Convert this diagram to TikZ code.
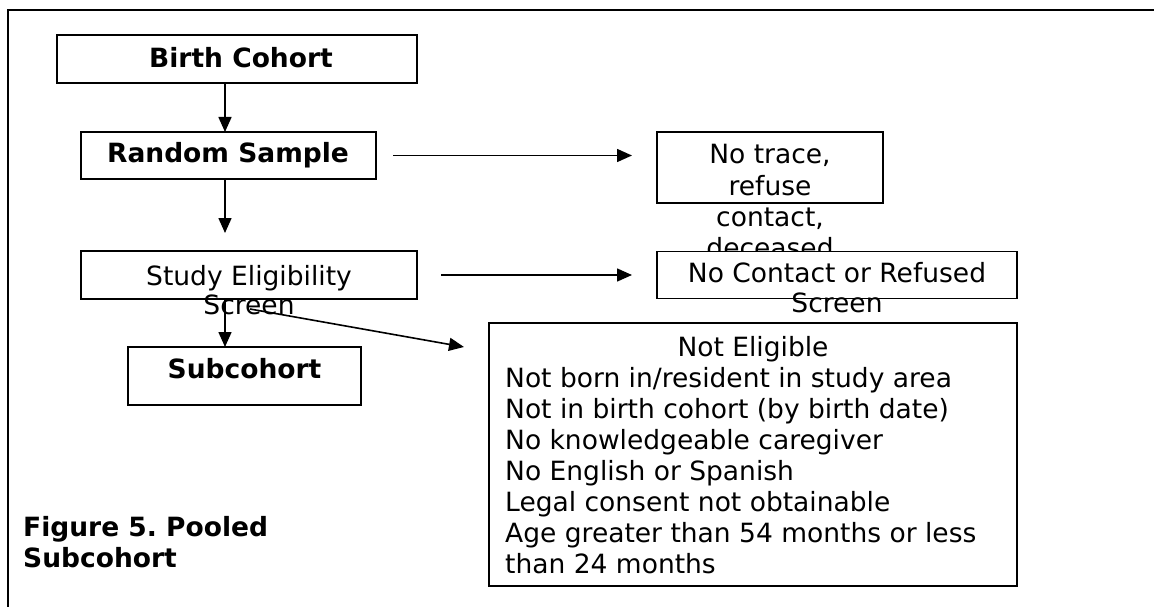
\documentclass[tikz,border=0pt]{standalone}
\usepackage{fontspec}
\setmainfont{DejaVu Sans}
\usetikzlibrary{arrows.meta,calc}
\begin{document}
\frenchspacing
\begin{tikzpicture}[x=1pt,y=-1pt,
  box/.style={draw, line width=1.6pt, fill=white, inner sep=0pt, outer sep=0pt},
  arr/.style={line width=1.6pt, -{Triangle[length=15pt,width=13pt]}},
  txt/.style={inner sep=0pt, anchor=base, font=\fontsize{26.5}{31}\selectfont},
  btxt/.style={txt, font=\fontsize{26.5}{31}\selectfont\bfseries}]
\useasboundingbox (0,0) rectangle (1154,607);
\fill[white] (0,0) rectangle (1154,607);
% frame
\draw[line width=2pt] (8,607) -- (8,10) -- (1154,10);
% boxes
\node[box, minimum width=360pt, minimum height=48pt] (bc) at (237,59) {};
\node[btxt] (bct) at (241,68) {Birth Cohort};
\node[box, minimum width=295pt, minimum height=47pt] (rs) at (228.5,155.5) {};
\node[btxt] (rst) at (228,163) {Random Sample};
\node[box, minimum width=226pt, minimum height=71pt] (nt) at (770,167.5) {};
\node[txt] (nt1) at (770,164) {No trace,};
\node[txt] (nt2) at (770,195) {refuse};
\node[txt] (nt3) at (770,226) {contact,};
\node[txt] (nt4) at (770,257) {deceased};
\node[box, minimum width=360pt, minimum height=47pt] (nc) at (837,275) {};
\node[txt] (nc1) at (837,282) {No Contact or Refused};
\node[txt] (nc2) at (837,312) {Screen};
\node[box, minimum width=336pt, minimum height=48pt] (se) at (249,275) {};
\node[txt] (se1) at (249,285) {Study Eligibility};
\node[txt] (se2) at (249,314) {Screen};
\node[box, minimum width=233pt, minimum height=58pt] (sc) at (244.5,376) {};
\node[btxt] (sct) at (244.5,378) {Subcohort};
\node[box, minimum width=528pt, minimum height=263pt] (ne) at (753,454.5) {};
\node[txt] (ne0) at (753,356) {Not Eligible};
\foreach \t [count=\i] in {{Not born in/resident in study area},
  {Not in birth cohort (by birth date)}, {No knowledgeable caregiver},
  {No English or Spanish}, {Legal consent not obtainable},
  {Age greater than 54 months or less}, {than 24 months}}
  \node[txt, anchor=base west] (ne\i) at (505,356+31*\i) {\t};
% caption
\node[btxt, anchor=base west] (cap1) at (23,536) {Figure 5. Pooled};
\node[btxt, anchor=base west] (cap2) at (23,567) {Subcohort};
% connectors
\coordinate (ax) at (225,0);
\coordinate (t2) at (225,233);
\coordinate (ds) at (250,309);
\coordinate (de) at (464,347);
\draw[arr] (bc.south -| ax) -- (rs.north -| ax);
\draw[arr] (rs.south -| ax) -- (t2);
\draw[arr] (se.south -| ax) -- (sc.north -| ax);
\draw[arr] ($(rs.east)+(17,0)$) -- ($(nt.west |- rs.east)+(-25,0)$);
\draw[arr] ($(se.east)+(24,0)$) -- ($(nc.west)+(-25,0)$);
\draw[arr] (ds) -- (de);
\end{tikzpicture}
\end{document}
